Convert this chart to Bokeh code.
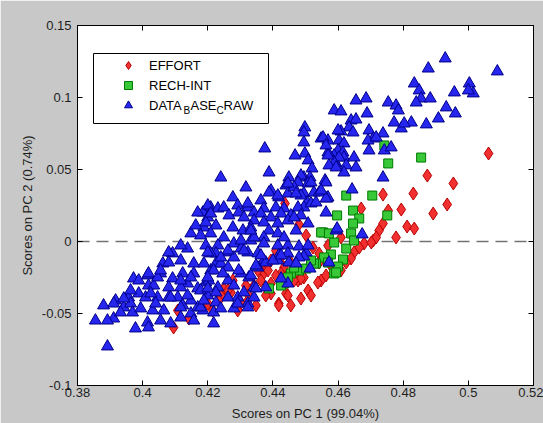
from bokeh.plotting import figure
from bokeh.models import (Span, Legend, LegendItem, Label, FixedTicker, BoxAnnotation,
                          CustomJSTickFormatter, LinearAxis, Range1d)
from bokeh.embed import file_html
from bokeh.resources import INLINE

FONT = "Liberation Sans"

x_ticks = [0.38, 0.40, 0.42, 0.44, 0.46, 0.48, 0.50, 0.52]
y_ticks = [-0.10, -0.05, 0.0, 0.05, 0.10, 0.15]

x_label = "Scores on PC 1 (99.04%)"
y_label = "Scores on PC 2 (0.74%)"

effort_pts = [
    (0.5062, 0.0611), (0.4874, 0.0458), (0.4954, 0.0403), (0.4831, 0.0333), (0.4738, 0.0326),
    (0.4935, 0.0257), (0.4794, 0.0222), (0.4892, 0.0194), (0.4812, 0.0104), (0.4834, 0.0090),
    (0.4778, 0.0028), (0.4754, 0.0215), (0.4671, 0.0229), (0.4738, 0.0125), (0.4726, 0.0076),
    (0.4708, 0.0007), (0.4680, -0.0014), (0.4665, -0.0042), (0.4717, 0.0028), (0.4702, -0.0007),
    (0.4649, -0.0076), (0.4640, -0.0118), (0.4609, 0.0028), (0.4569, -0.0028), (0.4548, -0.0271),
    (0.4502, 0.0042), (0.4523, -0.0042), (0.4542, -0.0083), (0.4538, -0.0285), (0.4508, -0.0340),
    (0.4517, -0.0375), (0.4486, -0.0396), (0.4440, -0.0361), (0.4418, -0.0431), (0.4394, -0.0361),
    (0.4477, -0.0271), (0.4495, -0.0250), (0.4409, -0.0063), (0.4394, -0.0132), (0.4372, -0.0222),
    (0.4363, -0.0271), (0.4354, -0.0201), (0.4378, -0.0181), (0.4302, -0.0424), (0.4292, -0.0479),
    (0.4271, -0.0354), (0.4249, -0.0326), (0.4240, -0.0375), (0.4323, -0.0410), (0.4394, -0.0292),
    (0.4434, -0.0181), (0.4455, -0.0146), (0.4477, -0.0181), (0.4425, -0.0222), (0.4095, -0.0597),
    (0.4142, -0.0535), (0.4200, -0.0431), (0.4215, -0.0479), (0.4234, -0.0410), (0.4108, -0.0479),
    (0.4262, -0.0340), (0.4326, -0.0375), (0.4369, -0.0146), (0.4385, -0.0201), (0.4425, -0.0111),
    (0.4440, -0.0250), (0.4418, -0.0444), (0.4446, -0.0375), (0.4486, -0.0257), (0.4465, -0.0271),
    (0.4409, -0.0236), (0.4437, 0.0264), (0.4480, 0.0118), (0.4542, -0.0146), (0.4578, -0.0167),
    (0.4563, -0.0236), (0.4625, -0.0146), (0.4609, -0.0201), (0.4342, -0.0306), (0.4378, -0.0375),
    (0.4455, -0.0444), (0.4348, -0.0444), (0.4317, -0.0306), (0.4277, -0.0271),
]

rech_pts = [
    (0.4855, 0.0583), (0.4742, 0.0667), (0.4754, 0.0542), (0.4705, 0.0319), (0.4625, 0.0319),
    (0.4597, 0.0181), (0.4646, 0.0215), (0.4665, 0.0160), (0.4646, 0.0125), (0.4751, 0.0181),
    (0.4640, 0.0056), (0.4554, 0.0063), (0.4588, -0.0007), (0.4625, -0.0049), (0.4649, 0.0007),
    (0.4578, -0.0090), (0.4557, -0.0111), (0.4615, -0.0125), (0.4600, -0.0174), (0.4588, -0.0222),
    (0.4569, -0.0146), (0.4532, -0.0153), (0.4480, -0.0201), (0.4455, -0.0222), (0.4434, -0.0292),
    (0.4388, -0.0326), (0.4446, -0.0250), (0.4465, -0.0181), (0.4425, -0.0306), (0.4526, -0.0153),
    (0.4548, 0.0063), (0.4572, 0.0056), (0.4594, -0.0215), (0.4502, -0.0188), (0.4517, -0.0132),
]

database_pts = [
    (0.4929, 0.1271), (0.5089, 0.1181), (0.4877, 0.1201), (0.5003, 0.1097), (0.5015, 0.1028),
    (0.5000, 0.1049), (0.4957, 0.1035), (0.4932, 0.0931), (0.4960, 0.0889), (0.4908, 0.0854),
    (0.4871, 0.0813), (0.4834, 0.1097), (0.4849, 0.1049), (0.4855, 0.0993), (0.4840, 0.0965),
    (0.4883, 0.0993), (0.4825, 0.0826), (0.4794, 0.0785), (0.4772, 0.0826), (0.4803, 0.0819),
    (0.4754, 0.0965), (0.4778, 0.0944), (0.4785, 0.0910), (0.4686, 0.0993), (0.4655, 0.0979),
    (0.4689, 0.0889), (0.4588, 0.0910), (0.4609, 0.0903), (0.4640, 0.0840), (0.4655, 0.0847),
    (0.4634, 0.0792), (0.4646, 0.0757), (0.4695, 0.0771), (0.4738, 0.0750), (0.4708, 0.0715),
    (0.4692, 0.0701), (0.4717, 0.0722), (0.4603, 0.0701), (0.4618, 0.0681), (0.4600, 0.0632),
    (0.4695, 0.0632), (0.4742, 0.0632), (0.4763, 0.0653), (0.4615, 0.0618), (0.4588, 0.0597),
    (0.4618, 0.0583), (0.4649, 0.0583), (0.4594, 0.0542), (0.4625, 0.0528), (0.4655, 0.0514),
    (0.4618, 0.0479), (0.4738, 0.0444), (0.4643, 0.0361), (0.4674, 0.0049), (0.4594, 0.0076),
    (0.4566, 0.0299), (0.4563, 0.0201), (0.4572, -0.0146),
    (0.4498, 0.0792), (0.4609, 0.0764), (0.4548, 0.0715), (0.4569, 0.0701), (0.4495, 0.0688),
    (0.4569, 0.0618), (0.4603, 0.0583), (0.4588, 0.0549), (0.4572, 0.0528), (0.4498, 0.0611),
    (0.4508, 0.0563), (0.4520, 0.0507), (0.4495, 0.0444), (0.4514, 0.0444), (0.4560, 0.0424),
    (0.4495, 0.0333), (0.4526, 0.0340), (0.4542, 0.0340), (0.4569, 0.0306), (0.4505, 0.0271),
    (0.4495, 0.0236), (0.4517, 0.0264), (0.4508, 0.0125), (0.4502, -0.0076), (0.4514, -0.0188),
    (0.4375, 0.0646), (0.4495, 0.0757), (0.4554, 0.0722), (0.4563, 0.0667), (0.4468, 0.0597),
    (0.4569, 0.0597), (0.4388, 0.0479), (0.4240, 0.0444), (0.4449, 0.0444), (0.4486, 0.0458),
    (0.4477, 0.0410), (0.4508, 0.0403), (0.4563, 0.0410), (0.4317, 0.0375), (0.4394, 0.0354),
    (0.4440, 0.0389), (0.4446, 0.0333), (0.4465, 0.0375), (0.4563, 0.0299), (0.4418, 0.0306),
    (0.4363, 0.0285), (0.4486, 0.0319), (0.4532, 0.0271), (0.4277, 0.0306), (0.4209, 0.0236),
    (0.4231, 0.0229), (0.4249, 0.0236), (0.4292, 0.0250), (0.4323, 0.0236), (0.4295, 0.0201),
    (0.4342, 0.0201), (0.4372, 0.0229), (0.4409, 0.0236), (0.4434, 0.0229), (0.4477, 0.0236),
    (0.4486, 0.0181), (0.4455, 0.0181), (0.4425, 0.0194), (0.4394, 0.0167), (0.4363, 0.0194),
    (0.4185, 0.0201), (0.4200, 0.0167), (0.4265, 0.0181), (0.4311, 0.0167), (0.4342, 0.0146),
    (0.4372, 0.0132), (0.4415, 0.0125), (0.4446, 0.0146), (0.4465, 0.0167), (0.4188, 0.0097),
    (0.4225, 0.0111), (0.4277, 0.0097), (0.4308, 0.0076), (0.4332, 0.0097), (0.4388, 0.0076),
    (0.4415, 0.0056), (0.4471, 0.0076), (0.4209, 0.0056), (0.4249, 0.0028), (0.4332, 0.0007),
    (0.4372, 0.0028), (0.4280, -0.0014), (0.4302, -0.0049), (0.4194, -0.0028), (0.4231, -0.0028),
    (0.4262, -0.0076), (0.4323, -0.0076), (0.4415, -0.0028), (0.4446, -0.0028), (0.4480, -0.0035),
    (0.4225, -0.0083), (0.4372, -0.0014), (0.4418, -0.0097), (0.4354, -0.0083), (0.4446, -0.0083),
    (0.4495, -0.0104), (0.4597, 0.0090), (0.4600, 0.0771), (0.4594, 0.0514),
    (0.3892, -0.0729), (0.3978, -0.0604), (0.3855, -0.0549), (0.3880, -0.0444), (0.3911, -0.0535),
    (0.3917, -0.0410), (0.3942, -0.0458), (0.3957, -0.0389), (0.3972, -0.0257), (0.4015, -0.0236),
    (0.4018, -0.0306), (0.3963, -0.0431), (0.3969, -0.0493), (0.3994, -0.0465), (0.3988, -0.0361),
    (0.4009, -0.0389), (0.4034, -0.0306), (0.4046, -0.0389), (0.4031, -0.0479), (0.4015, -0.0563),
    (0.4055, -0.0549), (0.4018, -0.0597), (0.4065, -0.0479), (0.4080, -0.0389), (0.4055, -0.0222),
    (0.4062, -0.0153), (0.4092, -0.0257), (0.4080, -0.0319), (0.4108, -0.0389), (0.4123, -0.0444),
    (0.4117, -0.0528), (0.4148, -0.0500), (0.4169, -0.0458), (0.4148, -0.0410), (0.4092, -0.0083),
    (0.4117, -0.0132), (0.4138, -0.0049), (0.4148, 0.0056), (0.4163, 0.0111), (0.4194, 0.0132),
    (0.4178, 0.0042), (0.4123, -0.0222), (0.4138, -0.0292), (0.4157, -0.0222), (0.4117, -0.0319),
    (0.4169, -0.0326), (0.4194, -0.0285), (0.4200, -0.0375), (0.4185, -0.0479), (0.4218, -0.0569),
    (0.4225, -0.0424), (0.4209, -0.0201), (0.4209, -0.0083), (0.4225, -0.0153), (0.4086, -0.0569),
    (0.4157, -0.0549), (0.3932, -0.0493), (0.3892, -0.0549),
    (0.4046, -0.0250), (0.4080, -0.0076), (0.4169, 0.0201), (0.4200, 0.0250), (0.4209, 0.0194),
    (0.4323, 0.0264), (0.4388, 0.0340), (0.4415, 0.0319), (0.4471, 0.0333), (0.4446, 0.0403),
    (0.4517, 0.0410), (0.4548, 0.0354), (0.4508, -0.0028), (0.4446, -0.0292), (0.4425, -0.0257),
    (0.4372, -0.0132), (0.4354, -0.0181), (0.4326, -0.0250), (0.4342, -0.0319), (0.4323, -0.0431),
    (0.4292, -0.0389), (0.4262, -0.0389), (0.4280, -0.0465), (0.4378, -0.0319), (0.4415, -0.0132),
    (0.4434, 0.0028), (0.4480, -0.0111), (0.4117, -0.0028), (0.4080, -0.0146), (0.4055, -0.0201),
    (0.4018, -0.0222), (0.3988, -0.0271), (0.3963, -0.0340), (0.3942, -0.0396), (0.3911, -0.0431),
    (0.4040, -0.0431), (0.4086, -0.0389), (0.4138, -0.0375), (0.4178, -0.0340), (0.4203, -0.0271),
    (0.4262, -0.0271), (0.4302, -0.0222), (0.4240, -0.0153), (0.4280, -0.0111), (0.4262, -0.0063),
    (0.4302, 0.0007), (0.4342, 0.0028), (0.4200, -0.0076), (0.4157, -0.0153), (0.4117, -0.0271),
    (0.4025, -0.0361), (0.4148, -0.0250), (0.4231, -0.0319), (0.4178, -0.0458), (0.4117, -0.0458),
    (0.4218, -0.0493),
    (0.4200, -0.0326), (0.4225, -0.0354), (0.4240, -0.0465), (0.4323, -0.0458), (0.4292, -0.0431),
    (0.4342, -0.0389), (0.4348, -0.0326), (0.4311, -0.0354), (0.4280, -0.0306), (0.4332, -0.0236),
    (0.4295, -0.0201), (0.4348, -0.0167), (0.4378, -0.0146), (0.4400, -0.0132), (0.4425, -0.0097),
    (0.4449, -0.0146), (0.4471, -0.0153), (0.4332, 0.0076), (0.4363, -0.0097), (0.4311, -0.0063),
    (0.4240, -0.0111), (0.4188, -0.0153), (0.4218, -0.0201), (0.4262, -0.0181), (0.4246, -0.0222),
    (0.4200, -0.0250), (0.4188, -0.0410),
]

effort_x = [a for a, b in effort_pts]
effort_y = [b for a, b in effort_pts]
rech_x = [a for a, b in rech_pts]
rech_y = [b for a, b in rech_pts]
db_x = [a for a, b in database_pts]
db_y = [b for a, b in database_pts]

# frame geometry (screen px inside the figure)
FL, FT, FW, FH = 77, 25, 456, 360


def sx_to_x(px):
    return x_ticks[0] + (px - FL) / FW * (x_ticks[-1] - x_ticks[0])


def sy_to_y(py):
    return y_ticks[-1] - (py - FT) / FH * (y_ticks[-1] - y_ticks[0])


p = figure(width=543, height=423,
           x_range=Range1d(x_ticks[0], x_ticks[-1]), y_range=Range1d(y_ticks[0], y_ticks[-1]),
           output_backend="svg", toolbar_location=None,
           min_border_left=FL, min_border_right=10, min_border_top=FT, min_border_bottom=38,
           background_fill_color="white", border_fill_color="#c8c8c8")
p.grid.visible = False
p.outline_line_color = "black"
p.outline_line_width = 1

fmt = CustomJSTickFormatter(code="return String(Number(tick.toFixed(4)));")
blank = CustomJSTickFormatter(code="return '';")


def style_axis(ax, ticks, show_labels):
    ax.ticker = FixedTicker(ticks=ticks)
    ax.formatter = fmt if show_labels else blank
    ax.major_tick_in = 5
    ax.major_tick_out = 0
    ax.minor_tick_in = 0
    ax.minor_tick_out = 0
    ax.axis_line_color = "black"
    ax.major_tick_line_color = "black"
    ax.major_label_text_font = FONT
    ax.major_label_text_font_size = "13px"
    ax.major_label_text_color = "#1e1e1e"
    ax.axis_label_text_font = FONT
    ax.axis_label_text_font_size = "13px"
    ax.axis_label_text_font_style = "normal"
    ax.axis_label_text_color = "#1e1e1e"


style_axis(p.xaxis[0], x_ticks, True)
style_axis(p.yaxis[0], y_ticks, True)
p.xaxis[0].axis_label = x_label
p.yaxis[0].axis_label = y_label
p.xaxis[0].major_label_standoff = 2
p.xaxis[0].axis_label_standoff = 6
p.yaxis[0].major_label_standoff = 6
p.yaxis[0].axis_label_standoff = 4

top_ax = LinearAxis()
style_axis(top_ax, x_ticks, False)
top_ax.major_label_standoff = 0
right_ax = LinearAxis()
style_axis(right_ax, y_ticks, False)
right_ax.major_label_standoff = 0
p.add_layout(top_ax, "above")
p.add_layout(right_ax, "right")

zero_line = Span(location=0, dimension="width", line_color="#737373", line_width=1.6,
                 line_dash="12 7", level="underlay")
p.add_layout(zero_line)

r_eff = p.scatter(effort_x, effort_y, marker="diamond", size=13,
                  fill_color="#f23030", line_color="#b80000", line_width=1)
r_rech = p.scatter(rech_x, rech_y, marker="square", size=9,
                   fill_color="#38c838", line_color="#007a00", line_width=1)
r_db = p.scatter(db_x, db_y, marker="triangle", size=12,
                 fill_color="#2626ee", line_color="#00008a", line_width=1)

# legend frame drawn as a box, the legend itself has no border/background
legend_box = BoxAnnotation(left=sx_to_x(93), right=sx_to_x(268),
                           top=sy_to_y(53), bottom=sy_to_y(123),
                           fill_color="white", fill_alpha=1,
                           line_color="black", line_width=1, line_alpha=1, level="overlay")
p.add_layout(legend_box)

legend = Legend(items=[LegendItem(label="EFFORT", renderers=[r_eff]),
                       LegendItem(label="RECH-INT", renderers=[r_rech]),
                       LegendItem(label="DATA", renderers=[r_db])],
                location=(108 - FL, FT + FH - 115), padding=0, spacing=0, margin=0,
                label_height=20, glyph_height=20, glyph_width=40,
                label_standoff=1, label_width=60,
                border_line_alpha=0, background_fill_alpha=0,
                label_text_font=FONT, label_text_font_size="13px", label_text_color="black")
p.add_layout(legend)

# subscripted remainder of the third legend label: DATA_B ASE_C RAW
pieces = [("B", 183, 110, "10px"), ("ASE", 190, 105, "13px"),
          ("C", 216, 110, "10px"), ("RAW", 223, 105, "13px")]
for txt, px, py, fs in pieces:
    p.add_layout(Label(x=sx_to_x(px), y=sy_to_y(py),
                       text=txt, text_font=FONT, text_font_size=fs, text_color="black",
                       text_baseline="middle", text_align="left", level="overlay"))

open("out.html", "w").write(file_html(p, INLINE))
